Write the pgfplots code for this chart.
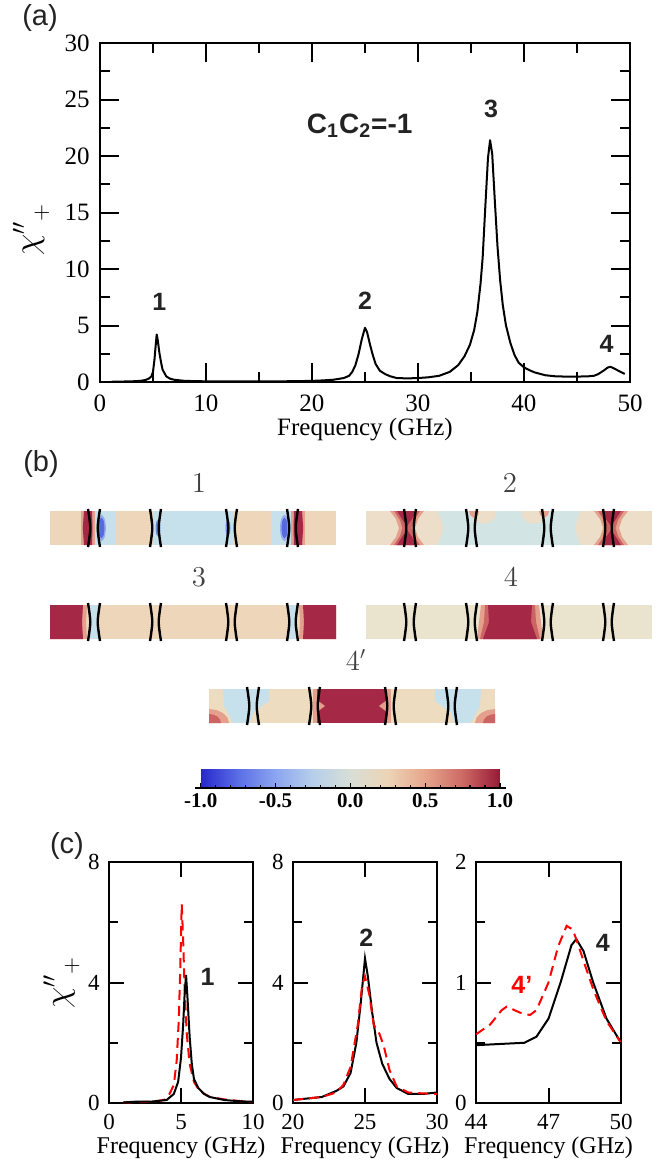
\documentclass[border=0pt]{standalone}
\usepackage[no-math]{fontspec}
\setmainfont{Liberation Serif}
\setsansfont{Liberation Sans}
\usepackage{pgfplots}
\pgfplotsset{compat=1.18}

\definecolor{tanS}{RGB}{238,214,186}
\definecolor{lblue}{RGB}{198,225,236}
\definecolor{blueC}{RGB}{85,105,225}
\definecolor{blueH}{RGB}{150,170,235}
\definecolor{blueM}{RGB}{115,135,230}
\definecolor{pinkR}{RGB}{228,160,140}
\definecolor{medR}{RGB}{205,100,100}
\definecolor{darkR}{RGB}{165,40,70}
\definecolor{beigeB}{RGB}{236,222,200}
\definecolor{cyanB}{RGB}{210,228,228}
\definecolor{beigeD}{RGB}{234,227,205}
\definecolor{tanE}{RGB}{238,220,193}
\definecolor{txt}{RGB}{35,35,35}

\tikzset{lbl/.style={font=\sffamily\bfseries\fontsize{12.5}{14}\selectfont, text=txt},
  tk/.style={black, line width=1pt}}

\pgfplotsset{
  panel/.style={scale only axis, anchor=south west,
    axis line style={line width=1pt},
    xtick pos=both, ytick pos=both, xtick align=inside, ytick align=inside,
    major tick style={draw=black, line width=1pt},
    minor tick style={draw=black, line width=1pt},
    /pgf/number format/assume math mode=true},
  cpanel/.style={panel, width=72pt, height=120.5pt,
    major tick length=7.5pt, minor tick length=4.5pt,
    tick label style={font=\fontsize{11.5}{13}\selectfont, inner sep=0pt},
    xticklabel style={yshift=-5.5pt},
    yticklabel style={xshift=-4.5pt},
    xlabel={Frequency (GHz)},
    xlabel style={font=\fontsize{12}{14}\selectfont, inner xsep=0pt, at={(axis description cs:0.5,-0.187)}, anchor=center}},
  strip/.style={anchor=south west, scale only axis, width=143pt, height=17pt,
    xmin=0, xmax=286, ymin=0, ymax=34, hide axis, clip=false},
}

% the eight domain walls drawn on every strip
\newcommand\walls{%
  \addplot[black, line width=1.2pt, smooth] coordinates {(38,-2) (40.3,17) (38,36)};
  \addplot[black, line width=1.2pt, smooth] coordinates {(50,-2) (47.7,17) (50,36)};
  \addplot[black, line width=1.2pt, smooth] coordinates {(100,-2) (102.3,17) (100,36)};
  \addplot[black, line width=1.2pt, smooth] coordinates {(111,-2) (108.7,17) (111,36)};
  \addplot[black, line width=1.2pt, smooth] coordinates {(176,-2) (178.3,17) (176,36)};
  \addplot[black, line width=1.2pt, smooth] coordinates {(187,-2) (184.7,17) (187,36)};
  \addplot[black, line width=1.2pt, smooth] coordinates {(237,-2) (239.3,17) (237,36)};
  \addplot[black, line width=1.2pt, smooth] coordinates {(248,-2) (245.7,17) (248,36)};
}
\newcommand\chilabel{$\chi''{}_{\raisebox{-0.3ex}{$\scriptstyle +$}}$}
% inward tick marks on all four sides: #1 x positions, #2 y positions, #3 length,
% #4 xmin, #5 xmax, #6 ymin, #7 ymax
\newcommand\xticks[6]{\foreach \t in {#1} {\draw[tk] (axis cs:\t,#5) -- ++(0,#2); \draw[tk] (axis cs:\t,#6) -- ++(0,-#2);}}
\newcommand\yticks[6]{\foreach \t in {#1} {\draw[tk] (axis cs:#3,\t) -- ++(#2,0); \draw[tk] (axis cs:#4,\t) -- ++(-#2,0);}}

\begin{document}
\begin{tikzpicture}
\useasboundingbox (0,0) rectangle (329pt,-582pt);

% ---------------- (a) ----------------
\node[font=\sffamily\fontsize{14.5}{16}\selectfont, text=txt] at (20pt,-9pt) {(a)};
\begin{axis}[panel, at={(50pt,-191pt)}, width=265pt, height=169.5pt,
  xmin=0, xmax=50, ymin=0, ymax=30,
  xtick={0,10,...,50}, minor xtick={5,15,...,45},
  ytick={0,5,...,30}, minor ytick={2.5,7.5,...,27.5},
  major tick length=9.5pt, minor tick length=5pt,
  tick label style={font=\fontsize{12.5}{14}\selectfont, inner sep=0pt},
  xticklabel style={yshift=-6.2pt},
  yticklabel style={xshift=-5pt},
  xlabel={Frequency (GHz)},
  xlabel style={font=\fontsize{12.5}{14}\selectfont, at={(axis description cs:0.5,-0.14)}, anchor=center},
  ylabel={\chilabel},
  ylabel style={font=\fontsize{16}{17}\selectfont, at={(axis description cs:-0.13,0.45)}, anchor=center},
  extra description/.code={
    \xticks{10,20,30,40}{9.5pt}{}{}{0}{30}
    \xticks{5,15,25,35,45}{5pt}{}{}{0}{30}
    \yticks{5,10,15,20,25}{9.5pt}{0}{50}{}{}
    \yticks{2.5,7.5,12.5,17.5,22.5,27.5}{5pt}{0}{50}{}{}},
]
\addplot[black, line width=1pt, line join=round] coordinates {
 (1.0,0.02) (2.0,0.04) (3.0,0.06) (3.8,0.10) (4.3,0.18) (4.6,0.3) (4.86,0.5)
 (5.0,0.9) (5.14,2.0) (5.25,3.2) (5.35,4.2) (5.45,3.7) (5.6,2.6) (5.75,1.8)
 (5.9,1.1) (6.25,0.5) (6.6,0.3) (7.0,0.2) (8.0,0.1) (10,0.06) (12,0.05)
 (15,0.05) (18,0.07) (20,0.10) (21,0.14) (22,0.2) (23,0.35) (23.5,0.55)
 (23.8,0.9) (24.1,1.5) (24.4,2.5) (24.7,3.8) (25.0,4.8) (25.2,4.4) (25.45,3.4)
 (25.7,2.5) (26.0,1.6) (26.4,1.0) (26.9,0.7) (27.4,0.5) (28.0,0.35) (29,0.32)
 (30,0.35) (31,0.42) (32,0.55) (33,0.9) (33.8,1.5) (34.4,2.3) (34.9,3.3)
 (35.3,4.6) (35.6,6.2) (35.9,8.7) (36.1,11) (36.35,15.5) (36.6,19.8) (36.8,21.4)
 (37.0,20.2) (37.25,16) (37.5,12) (37.75,9) (38.0,6.8) (38.3,5.0) (38.7,3.5)
 (39.1,2.4) (39.5,1.7) (40.0,1.3) (40.5,1.05) (41.0,0.85) (42.0,0.6) (43,0.5)
 (44,0.48) (45,0.48) (46,0.5) (46.6,0.55) (47,0.7) (47.5,1.0) (47.9,1.28)
 (48.15,1.35) (48.5,1.2) (49.0,0.95) (49.5,0.72)
};
\node[lbl] at (5.6,7.1) {1};
\node[lbl] at (25.0,7.2) {2};
\node[lbl] at (36.9,24.2) {3};
\node[lbl] at (47.8,3.4) {4};
\node[font=\sffamily\bfseries\fontsize{14}{16}\selectfont, text=txt] at (24.5,22.7)
  {C\textsubscript{1}C\textsubscript{2}=-1};
\end{axis}

% ---------------- (b) ----------------
\node[font=\sffamily\fontsize{14.5}{16}\selectfont, text=txt] at (20.5pt,-232pt) {(b)};
\begin{scope}[every node/.style={font=\fontsize{13.5}{14}\selectfont, text=black!75}]
\node at (99.5pt,-241.5pt) {$1$};
\node at (255pt,-241.5pt) {$2$};
\node at (99.5pt,-288.5pt) {$3$};
\node at (255.5pt,-288.5pt) {$4$};
\node at (178pt,-330pt) {$4'$};
\end{scope}

% strip 1
\begin{axis}[strip, at={(25pt,-272.5pt)}]
\addplot[fill=tanS, draw=none] coordinates {(0,0) (286,0) (286,34) (0,34)};
\addplot[fill=lblue, draw=none] coordinates {(43,0) (65,0) (65,34) (43,34)};
\addplot[fill=lblue, draw=none] coordinates {(103,0) (183,0) (183,34) (103,34)};
\addplot[fill=lblue, draw=none] coordinates {(221,0) (243,0) (243,34) (221,34)};
\addplot[fill=pinkR, draw=none] coordinates {(31,0) (45,0) (45,34) (31,34)};
\addplot[fill=darkR, draw=none] coordinates {(34,0) (42,0) (42.5,17) (42,34) (34,34) (32.8,17)};
\addplot[fill=pinkR, draw=none] coordinates {(241,0) (255,0) (255,34) (241,34)};
\addplot[fill=darkR, draw=none] coordinates {(244,0) (252,0) (253.2,17) (252,34) (244,34) (243.5,17)};
\addplot[fill=blueH, draw=none, smooth] coordinates {(56,17) (54.7,26.2) (51.5,30) (48.3,26.2) (47,17) (48.3,7.8) (51.5,4) (54.7,7.8) (56,17)};
\addplot[fill=blueC, draw=none, smooth] coordinates {(54.5,17) (53.6,24.1) (51.5,27) (49.4,24.1) (48.5,17) (49.4,9.9) (51.5,7) (53.6,9.9) (54.5,17)};
\addplot[fill=blueH, draw=none, smooth] coordinates {(239,17) (237.7,26.2) (234.5,30) (231.3,26.2) (230,17) (231.3,7.8) (234.5,4) (237.7,7.8) (239,17)};
\addplot[fill=blueC, draw=none, smooth] coordinates {(237.5,17) (236.6,24.1) (234.5,27) (232.4,24.1) (231.5,17) (232.4,9.9) (234.5,7) (236.6,9.9) (237.5,17)};
\addplot[fill=blueM, draw=none, smooth] coordinates {(110.5,17) (109.8,22.7) (108,25) (106.2,22.7) (105.5,17) (106.2,11.3) (108,9) (109.8,11.3) (110.5,17)};
\addplot[fill=blueM, draw=none, smooth] coordinates {(180.5,17) (179.8,22.7) (178,25) (176.2,22.7) (175.5,17) (176.2,11.3) (178,9) (179.8,11.3) (180.5,17)};
\walls
\end{axis}

% strip 2
\begin{axis}[strip, at={(183pt,-272.5pt)}]
\addplot[fill=beigeB, draw=none] coordinates {(0,0) (286,0) (286,34) (0,34)};
\addplot[fill=cyanB, draw=none] coordinates {(71,0) (215,0) (211,8) (209,17) (211,26) (215,34)
  (181,34) (179.3,27.5) (174.5,22.7) (168,21) (161.5,22.7) (156.7,27.5) (155,34)
  (131,34) (129.3,27.5) (124.5,22.7) (118,21) (111.5,22.7) (106.7,27.5) (105,34)
  (71,34) (75,26) (77,17) (75,8)};
\addplot[fill=pinkR, draw=none] coordinates {(103,34) (104,30) (108,27) (112,30) (113,34)};
\addplot[fill=pinkR, draw=none] coordinates {(173,34) (174,30) (178,27) (182,30) (183,34)};
\addplot[fill=pinkR, draw=none] coordinates {(24,34) (58,34) (52,26) (49,17) (52,8) (58,0) (24,0) (30,8) (33,17) (30,26)};
\addplot[fill=medR, draw=none] coordinates {(28,34) (54,34) (48,25) (45.5,17) (48,9) (54,0) (28,0) (34,9) (36.5,17) (34,25)};
\addplot[fill=darkR, draw=none] coordinates {(31,34) (50,34) (46,26) (41,19) (36,26)};
\addplot[fill=darkR, draw=none] coordinates {(31,0) (50,0) (46,8) (41,15) (36,8)};
\addplot[fill=pinkR, draw=none] coordinates {(262,34) (228,34) (234,26) (237,17) (234,8) (228,0) (262,0) (256,8) (253,17) (256,26)};
\addplot[fill=medR, draw=none] coordinates {(258,34) (232,34) (238,25) (240.5,17) (238,9) (232,0) (258,0) (252,9) (249.5,17) (252,25)};
\addplot[fill=darkR, draw=none] coordinates {(255,34) (236,34) (240,26) (245,19) (250,26)};
\addplot[fill=darkR, draw=none] coordinates {(255,0) (236,0) (240,8) (245,15) (250,8)};
\walls
\end{axis}

% strip 3
\begin{axis}[strip, at={(25pt,-319.5pt)}]
\addplot[fill=tanS, draw=none] coordinates {(0,0) (286,0) (286,34) (0,34)};
\addplot[fill=lblue, draw=none] coordinates {(38,0) (50,0) (47.7,17) (50,34) (38,34) (40.3,17)};
\addplot[fill=lblue, draw=none] coordinates {(237,0) (248,0) (245.7,17) (248,34) (237,34) (239.3,17)};
\addplot[fill=pinkR, draw=none] coordinates {(0,0) (37,0) (36,17) (37,34) (0,34)};
\addplot[fill=darkR, draw=none] coordinates {(0,0) (33,0) (32,17) (33,34) (0,34)};
\addplot[fill=pinkR, draw=none] coordinates {(286,0) (249,0) (250,17) (249,34) (286,34)};
\addplot[fill=darkR, draw=none] coordinates {(286,0) (253,0) (254,17) (253,34) (286,34)};
\walls
\end{axis}

% strip 4
\begin{axis}[strip, at={(183pt,-319.5pt)}]
\addplot[fill=beigeD, draw=none] coordinates {(0,0) (286,0) (286,34) (0,34)};
\addplot[fill=pinkR, draw=none] coordinates {(111,0) (177,0) (175,17) (173,34) (115,34) (113,17)};
\addplot[fill=medR, draw=none] coordinates {(114,0) (174,0) (170,17) (169,34) (119,34) (118,17)};
\addplot[fill=darkR, draw=none] coordinates {(117,0) (171,0) (165,17) (166,34) (122,34) (123,17)};
\walls
\end{axis}

% strip 4'
\begin{axis}[strip, at={(104.5pt,-361.5pt)}]
\addplot[fill=tanE, draw=none] coordinates {(0,0) (286,0) (286,34) (0,34)};
\addplot[fill=lblue, draw=none] coordinates {(14,34) (60,34) (60,22) (53,17) (44,10) (41,0) (24,0) (20,8) (15,17)};
\addplot[fill=lblue, draw=none] coordinates {(272,34) (226,34) (226,22) (233,17) (242,10) (245,0) (262,0) (266,8) (271,17)};
\addplot[fill=pinkR, draw=none] coordinates {(104,0) (182,0) (182,34) (104,34)};
\addplot[fill=darkR, draw=none] coordinates {(108,0) (178,0) (178,34) (108,34)};
\addplot[fill=pinkR, draw=none] coordinates {(108,11) (116,17) (108,23)};
\addplot[fill=pinkR, draw=none] coordinates {(178,11) (170,17) (178,23)};
\addplot[fill=pinkR, draw=none] coordinates {(0,0) (20,0) (18.5,5.4) (14.1,9.9) (7.7,12.9) (0,14)};
\addplot[fill=medR, draw=none] coordinates {(0,0) (12,0) (11.1,3.4) (8.5,6.4) (4.6,8.3) (0,9)};
\addplot[fill=pinkR, draw=none] coordinates {(286,0) (266,0) (267.5,5.4) (271.9,9.9) (278.3,12.9) (286,14)};
\addplot[fill=medR, draw=none] coordinates {(286,0) (274,0) (274.9,3.4) (277.5,6.4) (281.4,8.3) (286,9)};
\walls
\end{axis}

% colour bar
\begin{axis}[at={(100.35pt,-394pt)}, anchor=south west, scale only axis,
  width=149.65pt, height=9.5pt, hide axis, xmin=-1, xmax=1, ymin=0, ymax=1,
  colormap={cwarm}{rgb255(0cm)=(40,40,205); rgb255(1cm)=(90,110,230);
    rgb255(2cm)=(140,165,240); rgb255(3cm)=(182,207,234); rgb255(4cm)=(216,222,214);
    rgb255(5cm)=(236,212,182); rgb255(6cm)=(230,165,140); rgb255(7cm)=(205,105,100);
    rgb255(8cm)=(150,25,55)},
  point meta min=-1, point meta max=1,
  colorbar horizontal,
  colorbar shift/.style={},
  colorbar style={at={(parent axis.south west)}, anchor=south west,
    scale only axis, width=149.65pt, height=9.5pt,
    axis line style={draw=none}, xtick pos=bottom,
    xtick={-1,-0.5,0,0.5,1}, xticklabels={-1.0,-0.5,0.0,0.5,1.0},
    minor x tick num=4, major tick length=2.5pt, minor tick length=1.5pt,
    major tick style={draw=black, line width=0.6pt},
    minor tick style={draw=black, line width=0.6pt},
    xticklabel style={font=\bfseries\fontsize{10.5}{12}\selectfont, yshift=1pt},
    extra description/.code={\draw[line width=0.9pt] (-0.02,0) -- (1.02,0);}},
]
\addplot[draw=none] coordinates {(0,0.5)};
\end{axis}

% ---------------- (c) ----------------
\node[font=\sffamily\fontsize{14.5}{16}\selectfont, text=txt] at (33.5pt,-423pt) {(c)};
\begin{axis}[cpanel, at={(54.5pt,-551.5pt)},
  xmin=0, xmax=10, ymin=0, ymax=8, xtick={0,5,10}, ytick={0,4,8}, minor ytick={2,6},
  ylabel={\chilabel},
  ylabel style={font=\fontsize{16}{17}\selectfont, at={(axis description cs:-0.33,0.5)}, anchor=center},
  extra description/.code={
    \xticks{5}{7.5pt}{}{}{0}{8}
    \yticks{4}{7.5pt}{0}{10}{}{}
    \yticks{2,6}{4.5pt}{0}{10}{}{}},
]
\addplot[red, line width=1pt, dash pattern=on 5pt off 3pt] coordinates {
 (1,0.02) (2,0.03) (3,0.04) (3.8,0.1) (4.2,0.3) (4.5,0.6) (4.7,1.4) (4.85,2.8)
 (4.95,4.5) (5.05,6.6) (5.15,5.4) (5.25,3.8) (5.4,2.3) (5.6,1.3) (5.9,0.7)
 (6.3,0.4) (7,0.2) (8,0.12) (9,0.07) (10,0.03)};
\addplot[black, line width=1pt] coordinates {
 (1,0.02) (2,0.05) (3,0.05) (4,0.1) (4.5,0.3) (4.8,0.7) (5.0,1.5) (5.15,2.6)
 (5.25,3.6) (5.35,4.25) (5.45,3.5) (5.6,2.2) (5.75,1.3) (5.9,0.8) (6.2,0.5)
 (6.6,0.3) (7,0.2) (8,0.1) (9,0.06) (10,0.04)};
\node[lbl] at (6.85,4.2) {1};
\end{axis}

\begin{axis}[cpanel, at={(146.5pt,-551.5pt)},
  xmin=20, xmax=30, ymin=0, ymax=8, xtick={20,25,30}, ytick={0,4,8}, minor ytick={2,6},
  extra description/.code={
    \xticks{25}{7.5pt}{}{}{0}{8}
    \yticks{4}{7.5pt}{20}{30}{}{}
    \yticks{2,6}{4.5pt}{20}{30}{}{}},
]
\addplot[black, line width=1pt] coordinates {
 (20,0.1) (21,0.15) (22,0.2) (23,0.4) (23.5,0.55) (24,1.0) (24.4,2.0) (24.7,3.3)
 (25.0,4.8) (25.2,4.2) (25.5,3.0) (25.8,2.0) (26.2,1.3) (26.7,0.8) (27.2,0.5)
 (28,0.3) (29,0.3) (30,0.35)};
\addplot[red, line width=1pt, dash pattern=on 5pt off 3pt] coordinates {
 (20,0.1) (22,0.2) (23,0.35) (23.5,0.6) (24,1.2) (24.5,2.6) (24.8,3.9) (25.0,4.2)
 (25.3,3.6) (25.6,2.6) (26,2.3) (26.3,1.9) (26.7,1.1) (27.2,0.55) (28,0.35)
 (29,0.32) (30,0.3)};
\node[lbl] at (25.1,5.5) {2};
\end{axis}

\begin{axis}[cpanel, at={(238pt,-551.5pt)}, width=72.5pt,
  xmin=44, xmax=50, ymin=0, ymax=2, xtick={44,47,50}, ytick={0,1,2}, minor ytick={0.5,1.5},
  extra description/.code={
    \xticks{47}{7.5pt}{}{}{0}{2}
    \yticks{1}{7.5pt}{44}{50}{}{}
    \yticks{0.5,1.5}{4.5pt}{44}{50}{}{}},
]
\addplot[black, line width=1pt] coordinates {
 (44,0.48) (45,0.49) (46,0.5) (46.5,0.55) (47,0.7) (47.5,1.0) (47.95,1.31)
 (48.15,1.36) (48.45,1.26) (48.85,1.0) (49.4,0.7) (50,0.5)};
\addplot[red, line width=1pt, dash pattern=on 5pt off 3pt] coordinates {
 (44,0.57) (44.58,0.65) (45.06,0.77) (45.27,0.8) (45.82,0.75) (46.23,0.73)
 (46.5,0.77) (47.0,1.0) (47.4,1.3) (47.75,1.47) (48.0,1.44) (48.2,1.33)
 (48.5,1.15) (48.86,0.94) (49.4,0.68) (50,0.5)};
\node[lbl] at (49.25,1.33) {4};
\node[lbl, text=red] at (45.9,0.98) {4’};
\end{axis}
\end{tikzpicture}
\end{document}
